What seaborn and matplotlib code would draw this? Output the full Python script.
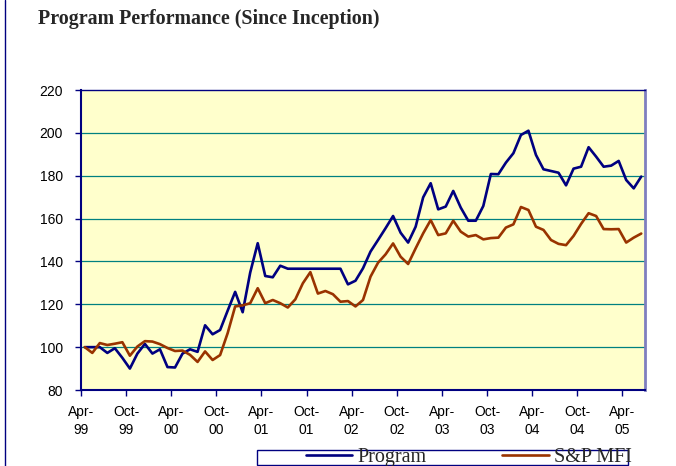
import numpy as np
import pandas as pd
import matplotlib
matplotlib.use("Agg")
import matplotlib.pyplot as plt
from matplotlib.lines import Line2D
from matplotlib.patches import Rectangle
import seaborn as sns

# ---- data (monthly, Apr-99 .. Jun-05) ----
months = [d.strftime("%b-%y") for d in pd.date_range("1999-04-01", periods=75, freq="MS")]

program = [100, 100, 100, 97.3, 99.5, 95, 90, 97, 101.5, 97, 99, 90.7,
           90.5, 97, 99, 97.8, 110.2, 106, 108, 117, 125.8, 116.3, 134.8, 148.5,
           133.2, 132.6, 138, 136.6, 136.6, 136.6, 136.6, 136.6, 136.6, 136.6, 136.6, 129.3,
           131, 136.8, 144.6, 150, 155.5, 161.2, 153.4, 148.8, 156.2, 169.9, 176.5, 164.3,
           165.6, 172.9, 165.1, 159, 159, 165.9, 180.8, 180.7, 186.1, 190.5, 199, 201,
           189.7, 183, 182.2, 181.4, 175.5, 183.3, 184.2, 193.3, 188.9, 184.2, 184.7, 186.9,
           178, 174.1, 179.6]

sp_mfi = [100, 97.3, 101.9, 101, 101.6, 102.3, 96, 100.3, 102.8, 102.6, 101.4, 99.6,
          98.2, 98.4, 96.4, 93.1, 98, 94, 96.3, 106.5, 119, 119.5, 120.5, 127.5,
          120.5, 122, 120.5, 118.5, 122.3, 129.8, 135, 125, 126.2, 124.7, 121.2, 121.5,
          119, 122, 132.9, 139.4, 143.3, 148.4, 142.2, 138.8, 146.1, 153.1, 159.3, 152.3,
          153.1, 159, 153.9, 151.6, 152.3, 150.3, 150.9, 151.1, 155.8, 157.3, 165.4, 164,
          156.2, 154.7, 150, 148.2, 147.6, 151.9, 157.5, 162.5, 161.2, 155.1, 155, 155.1,
          148.8, 151.1, 153]

series_names = ["Program", "S&P MFI"]
tick_labels = ["Apr-\n99", "Oct-\n99", "Apr-\n00", "Oct-\n00", "Apr-\n01", "Oct-\n01",
               "Apr-\n02", "Oct-\n02", "Apr-\n03", "Oct-\n03", "Apr-\n04", "Oct-\n04", "Apr-\n05"]
y_ticks = [80, 100, 120, 140, 160, 180, 200, 220]

title = "Program Performance (Since Inception)"

# ---- build long table ----
n = len(program)
df = pd.DataFrame({
    "x": list(range(n)) * 2,
    "month": months * 2,
    "value": program + sp_mfi,
    "series": [series_names[0]] * n + [series_names[1]] * n,
})

sns.set_theme(style="white")
plt.rcParams["font.family"] = ["Liberation Sans", "DejaVu Sans"]

W, H = 676, 466
fig = plt.figure(figsize=(W / 100, H / 100), dpi=100)
fig.patch.set_facecolor("white")
ax = fig.add_axes([81 / W, 1 - 390 / H, (645 - 81) / W, (390 - 90) / H])
ax.set_facecolor("#FFFFCC")

navy = "#000080"
brown = "#993300"

sns.lineplot(data=df, x="x", y="value", hue="series", palette=[navy, brown],
             linewidth=1.9, sort=False, legend=False, ax=ax, zorder=3)

ax.set_xlim(-0.5, n - 0.5)
ax.set_ylim(80, 220)
ax.set_yticks(y_ticks)
ax.set_yticklabels([str(v) for v in y_ticks])
xt = [-0.5 + 6 * k for k in range(len(tick_labels))]
ax.set_xticks(xt)
ax.set_xticklabels(tick_labels, linespacing=1.38)
ax.set_xlabel("")
ax.set_ylabel("")

for v in y_ticks[1:-1]:
    ax.axhline(v, color="#008080", lw=0.9, zorder=1)

ax.tick_params(axis="both", direction="out", length=4, width=1, color=navy,
               labelsize=10, labelcolor="black")
ax.tick_params(axis="y", pad=9)
ax.tick_params(axis="x", pad=7)
ax.xaxis.set_ticks_position("bottom")
ax.yaxis.set_ticks_position("left")

ax.spines["left"].set_color(navy)
ax.spines["left"].set_linewidth(1.5)
ax.spines["bottom"].set_color(navy)
ax.spines["bottom"].set_linewidth(1.5)
ax.spines["top"].set_color(navy)
ax.spines["top"].set_linewidth(1.0)
ax.spines["right"].set_color("#7F7FBF")
ax.spines["right"].set_linewidth(2.0)
for s in ax.spines.values():
    s.set_visible(True)

# title
fig.text(38 / W, 1 - 24 / H, title, fontsize=14.4, fontweight="bold",
         family=["Liberation Serif", "DejaVu Serif"], ha="left", va="baseline")

# left border of the chart area
fig.add_artist(Line2D([5 / W, 5 / W], [0, 1], color=navy, lw=1.0))

# legend
fig.add_artist(Rectangle((257 / W, 1 - 465 / H), (628 - 257) / W, 15 / H,
                         transform=fig.transFigure, fill=False, edgecolor=navy, lw=1.0))
handles = [Line2D([], [], color=navy, lw=1.9), Line2D([], [], color=brown, lw=1.9)]
fig.legend(handles, series_names, loc="center left",
           bbox_to_anchor=(306 / W, 1 - 457 / H), ncol=2, frameon=False,
           borderpad=0, borderaxespad=0, handlelength=2.29, handletextpad=0.25,
           columnspacing=3.78, prop={"family": ["Liberation Serif", "DejaVu Serif"], "size": 14.5})

fig.savefig("out.png", dpi=100, facecolor="white")
